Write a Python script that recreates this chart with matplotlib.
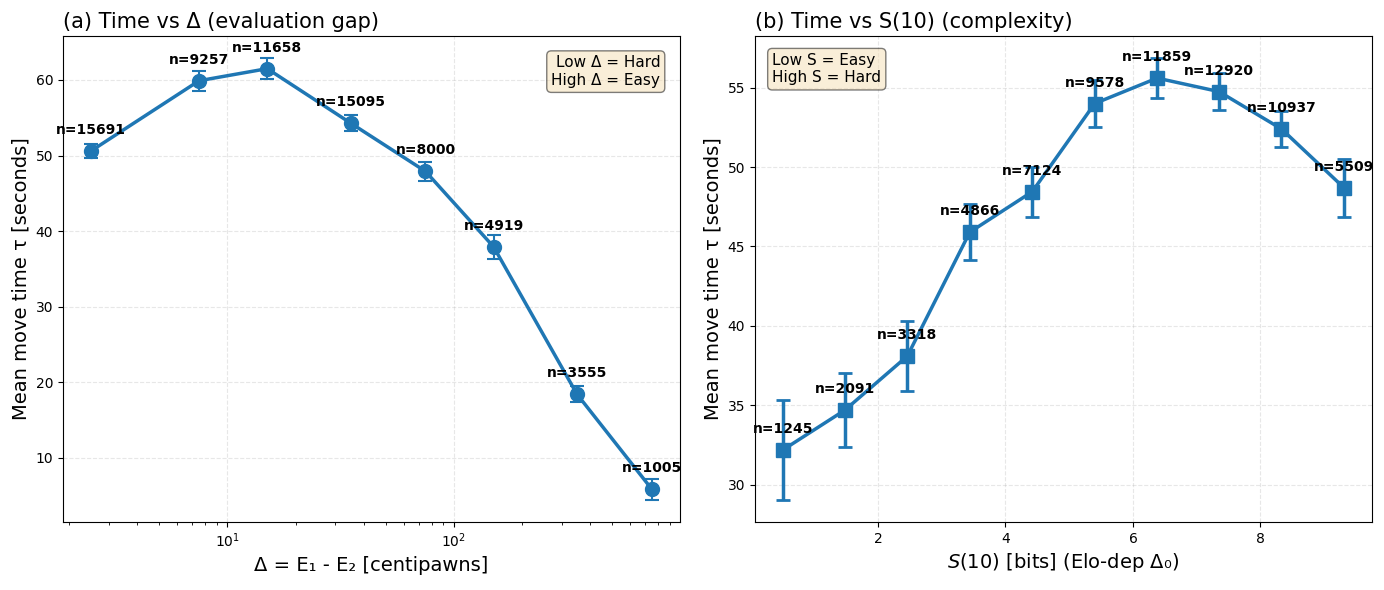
import matplotlib
matplotlib.use("Agg")
import matplotlib.pyplot as plt

# panel (a): time vs evaluation gap
delta_mid = [2.5, 7.5, 15, 35, 75, 150, 350, 750]
delta_time = [50.6, 59.9, 61.5, 54.3, 47.9, 37.9, 18.4, 5.8]
delta_err = [0.9, 1.3, 1.4, 1.0, 1.3, 1.6, 1.1, 1.4]
delta_n = [15691, 9257, 11658, 15095, 8000, 4919, 3555, 1005]

# panel (b): time vs complexity S(10)
s_mid = [0.51, 1.48, 2.46, 3.44, 4.42, 5.40, 6.38, 7.35, 8.33, 9.31]
s_time = [32.2, 34.7, 38.1, 45.9, 48.45, 54.0, 55.6, 54.75, 52.4, 48.7]
s_err = [3.15, 2.33, 2.2, 1.75, 1.57, 1.45, 1.26, 1.15, 1.15, 1.83]
s_n = [1245, 2091, 3318, 4866, 7124, 9578, 11859, 12920, 10937, 5509]

color = '#1f77b4'
box = dict(boxstyle='round', facecolor='wheat', alpha=0.5)

fig, (ax1, ax2) = plt.subplots(1, 2, figsize=(13.84, 5.9))
fig.subplots_adjust(left=0.0455, right=0.9913, top=0.939, bottom=0.1153,
                    wspace=0.1216)

ax1.errorbar(delta_mid, delta_time, yerr=delta_err, fmt='o-', color=color,
             lw=2.5, ms=10, capsize=5, elinewidth=1.5, capthick=1.5)
for x, y, n in zip(delta_mid, delta_time, delta_n):
    ax1.annotate(f'n={n}', (x, y), xytext=(0, 10), textcoords='offset points',
                 ha='center', va='bottom', fontsize=10, fontweight='bold')
ax1.set_xscale('log')
ax1.set_xlabel('Δ = E₁ - E₂ [centipawns]', fontsize=14)
ax1.set_ylabel('Mean move time τ [seconds]', fontsize=14)
ax1.set_title('(a) Time vs Δ (evaluation gap)', fontsize=15, loc='left')
ax1.grid(True, alpha=0.3, linestyle='--')
ax1.text(0.968, 0.96, 'Low Δ = Hard\nHigh Δ = Easy', transform=ax1.transAxes,
         fontsize=11, ha='right', va='top', multialignment='right', bbox=box)

ax2.errorbar(s_mid, s_time, yerr=s_err, fmt='s-', color=color,
             lw=2.5, ms=10, capsize=5, elinewidth=2.5, capthick=2)
for x, y, n in zip(s_mid, s_time, s_n):
    ax2.annotate(f'n={n}', (x, y), xytext=(0, 10), textcoords='offset points',
                 ha='center', va='bottom', fontsize=10, fontweight='bold')
ax2.set_xlabel('$S$(10) [bits] (Elo-dep Δ₀)', fontsize=14)
ax2.set_ylabel('Mean move time τ [seconds]', fontsize=14)
ax2.set_title('(b) Time vs S(10) (complexity)', fontsize=15, loc='left')
ax2.grid(True, alpha=0.3, linestyle='--')
ax2.text(0.028, 0.965, 'Low S = Easy\nHigh S = Hard', transform=ax2.transAxes,
         fontsize=11, ha='left', va='top', bbox=box)

plt.savefig('out.png', dpi=100)
